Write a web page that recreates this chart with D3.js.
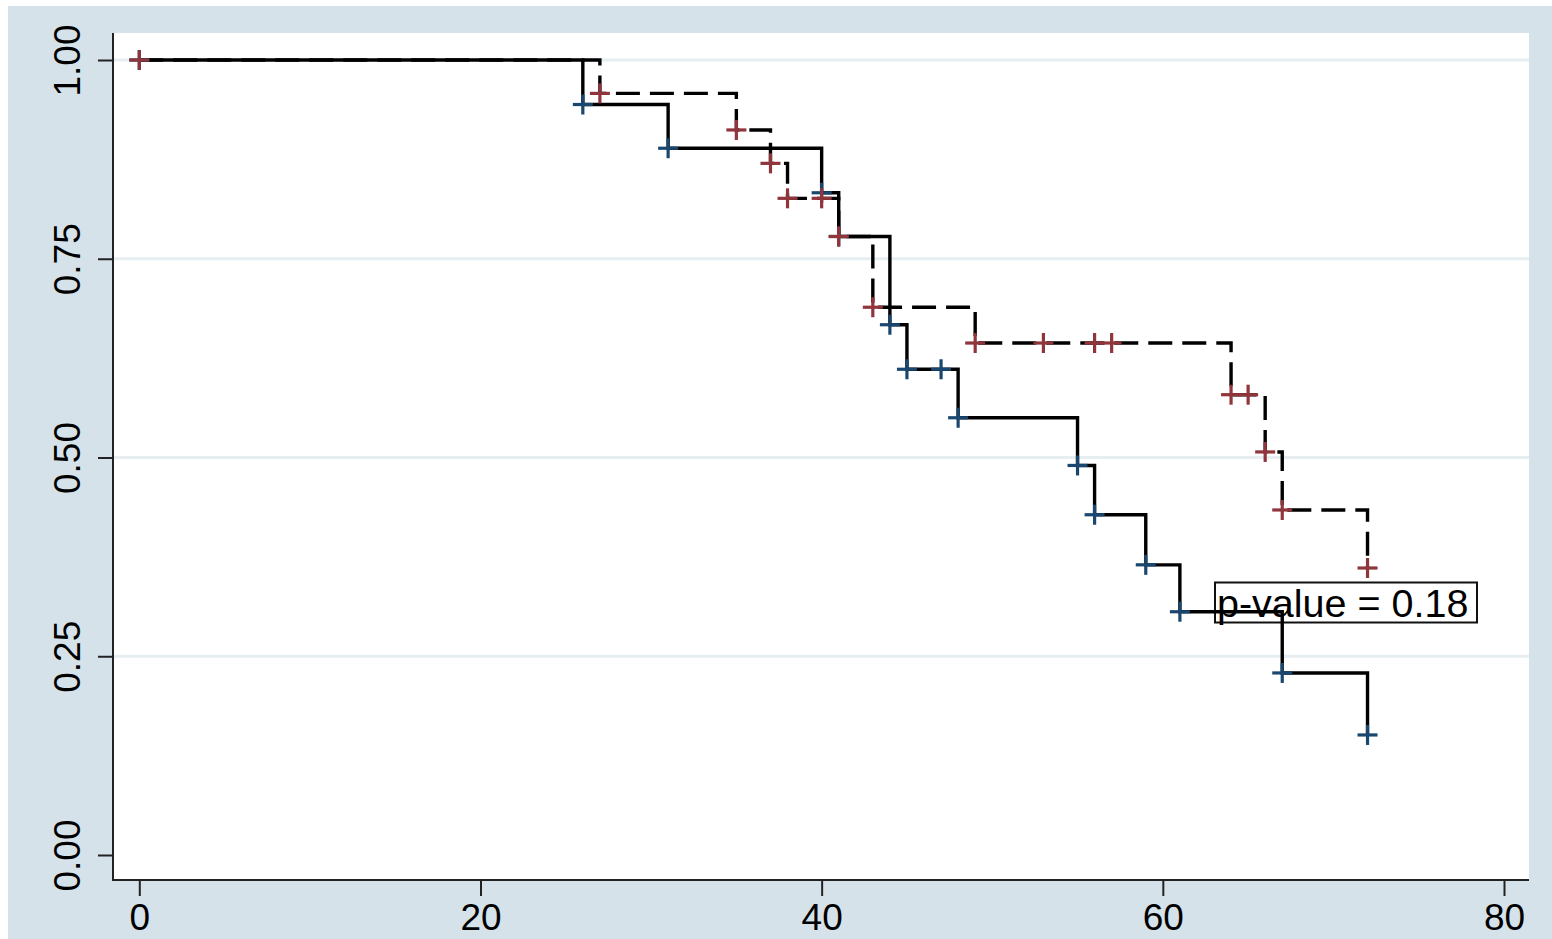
<!DOCTYPE html>
<html>
<head>
<meta charset="utf-8">
<script src="https://d3js.org/d3.v7.min.js"></script>
<style>
  body { margin: 0; background: #fff; }
  svg { display: block; }
  text { font-family: "Liberation Sans", Arial, sans-serif; fill: #000; }
</style>
</head>
<body>
<div id="chart"></div>
<script>
// Kaplan-Meier step data
const group1Times = [0, 26, 31, 40, 41, 44, 45, 48, 55, 56, 59, 61, 67, 72];
const group1Surv  = [1, 0.944, 0.889, 0.833, 0.778, 0.667, 0.611, 0.55, 0.49, 0.428, 0.365, 0.306, 0.229, 0.151];
const group1Marks = [0, 26, 31, 40, 41, 44, 45, 47, 48, 55, 56, 59, 61, 67, 72];

const group2Times = [0, 27, 35, 37, 38, 41, 43, 49, 64, 66, 67, 72];
const group2Surv  = [1, 0.958, 0.912, 0.870, 0.826, 0.778, 0.689, 0.644, 0.579, 0.507, 0.434, 0.361];
const group2Marks = [0, 27, 35, 37, 38, 40, 41, 43, 49, 53, 56, 57, 64, 65, 66, 67, 72];

const xTicks = [0, 20, 40, 60, 80];
const yTicks = [0, 0.25, 0.5, 0.75, 1];
const gridTicks = [0.25, 0.5, 0.75, 1];
const pLabel = "p-value = 0.18";

const width = 1552, height = 939;
const plot = { left: 113, top: 33, right: 1529, bottom: 880 };

const svg = d3.select("#chart")
    .append("svg")
    .attr("width", width)
    .attr("height", height);

// outer background and plot region
svg.append("rect")
    .attr("x", 8).attr("y", 6)
    .attr("width", width - 8).attr("height", height - 6)
    .attr("fill", "#d6e2e9");

svg.append("rect")
    .attr("x", plot.left).attr("y", plot.top)
    .attr("width", plot.right - plot.left).attr("height", plot.bottom - plot.top)
    .attr("fill", "#fff");

const x = d3.scaleLinear().domain([0, 80]).range([139.3, 1504]);
const y = d3.scaleLinear().domain([0, 1]).range([855, 60]);

// grid lines
svg.append("g")
    .selectAll("line")
    .data(gridTicks)
    .join("line")
    .attr("x1", plot.left).attr("x2", plot.right)
    .attr("y1", d => y(d)).attr("y2", d => y(d))
    .attr("stroke", "#e6eef1")
    .attr("stroke-width", 3);

// axes
const yAxis = d3.axisLeft(y)
    .tickValues(yTicks)
    .tickFormat(d3.format(".2f"))
    .tickSize(15)
    .tickSizeOuter(0);

const gy = svg.append("g")
    .attr("transform", `translate(${plot.left},0)`)
    .call(yAxis);
gy.select(".domain").remove();
gy.selectAll(".tick line").attr("stroke", "#222").attr("stroke-width", 2);
gy.selectAll(".tick text")
    .attr("x", null).attr("dy", null)
    .attr("text-anchor", "middle")
    .attr("transform", "translate(-33,0) rotate(-90)")
    .style("font-size", "37px");

const xAxis = d3.axisBottom(x)
    .tickValues(xTicks)
    .tickFormat(d3.format("d"))
    .tickSize(16)
    .tickSizeOuter(0);

const gx = svg.append("g")
    .attr("transform", `translate(0,${plot.bottom})`)
    .call(xAxis);
gx.select(".domain").remove();
gx.selectAll(".tick line").attr("stroke", "#222").attr("stroke-width", 2);
gx.selectAll(".tick text")
    .attr("y", 50).attr("dy", null)
    .style("font-size", "37px");

// axis lines
svg.append("line")
    .attr("x1", plot.left).attr("x2", plot.left)
    .attr("y1", plot.top).attr("y2", plot.bottom + 1)
    .attr("stroke", "#222").attr("stroke-width", 2);
svg.append("line")
    .attr("x1", plot.left).attr("x2", plot.right)
    .attr("y1", plot.bottom).attr("y2", plot.bottom)
    .attr("stroke", "#222").attr("stroke-width", 2);

// p-value box
const boxX = x(63) + 1, boxY = y(0.3) - 34;
svg.append("rect")
    .attr("x", boxX).attr("y", boxY)
    .attr("width", 262).attr("height", 40)
    .attr("fill", "none")
    .attr("stroke", "#111")
    .attr("stroke-width", 2);
svg.append("text")
    .attr("x", boxX + 2).attr("y", boxY + 34)
    .style("font-size", "39.5px")
    .text(pLabel);

// survival step lines
const line = d3.line()
    .x(d => x(d[0]))
    .y(d => y(d[1]))
    .curve(d3.curveStepAfter);

svg.append("path")
    .datum(d3.zip(group1Times, group1Surv))
    .attr("d", line)
    .attr("fill", "none")
    .attr("stroke", "#000")
    .attr("stroke-width", 3.4);

svg.append("path")
    .datum(d3.zip(group2Times, group2Surv))
    .attr("d", line)
    .attr("fill", "none")
    .attr("stroke", "#000")
    .attr("stroke-width", 3.4)
    .attr("stroke-dasharray", "24,10");

// survival value at time t (step function lookup)
function survAt(times, surv, t) {
    const i = d3.bisectRight(times, t) - 1;
    return surv[Math.max(0, i)];
}

function drawMarks(marks, times, surv, color) {
    const g = svg.append("g")
        .attr("stroke", color)
        .attr("stroke-width", 3.2);
    marks.forEach(t => {
        const cx = x(t), cy = y(survAt(times, surv, t));
        g.append("line").attr("x1", cx - 10).attr("x2", cx + 10).attr("y1", cy).attr("y2", cy);
        g.append("line").attr("x1", cx).attr("x2", cx).attr("y1", cy - 10).attr("y2", cy + 10);
    });
}

drawMarks(group1Marks, group1Times, group1Surv, "#1a476f");
drawMarks(group2Marks, group2Times, group2Surv, "#90353b");
</script>
</body>
</html>
